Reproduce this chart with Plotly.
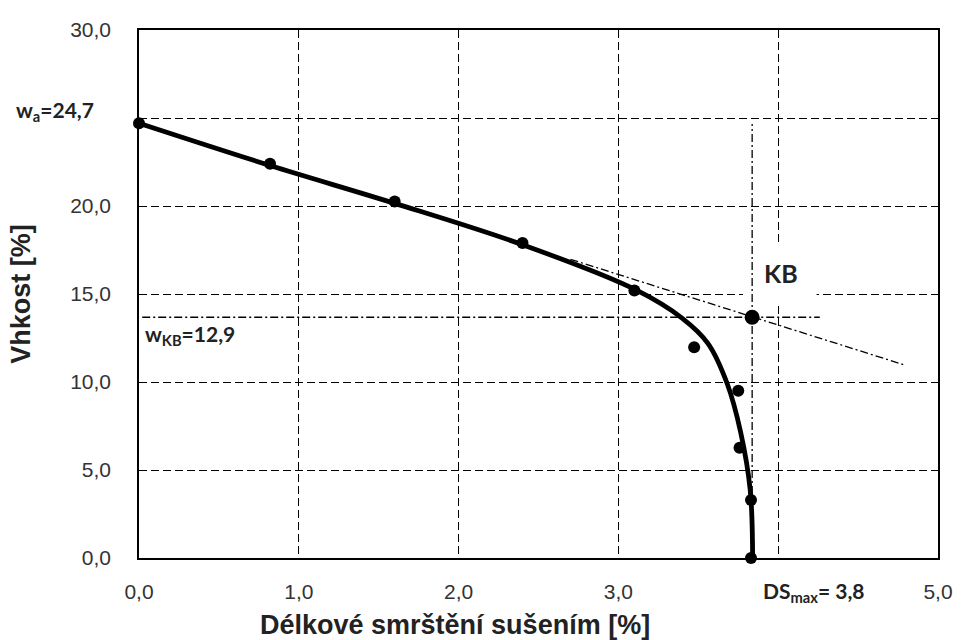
import plotly.graph_objects as go

# measured points
pts_x = [0.0, 0.82, 1.6, 2.4, 3.1, 3.474, 3.75, 3.758, 3.83, 3.83]
pts_y = [24.7, 22.4, 20.25, 17.9, 15.2, 11.97, 9.5, 6.27, 3.30, 0.0]

# fitted curve
curve_x = [0.0, 0.82, 1.6, 2.4, 3.11, 3.40, 3.56, 3.68, 3.765, 3.825, 3.84]
curve_y = [24.7, 22.3, 20.15, 17.8, 15.23, 13.62, 12.2, 9.93, 7.15, 3.85, 0.0]

# critical point (KB)
kb_x = 3.837
kb_y = 13.68

# tangent (extension of linear part)
tan_x = [2.70, 4.79]
tan_y = [16.97, 10.97]

# horizontal and vertical reference lines through KB
hline_x = [0.02, 4.26]
vline_top = 24.66

x_ticks = [0, 1, 2, 3, 4, 5]
x_ticktext = ["0,0", "1,0", "2,0", "3,0", " ", "5,0"]
y_ticks = [0, 5, 10, 15, 20, 25, 30]
y_ticktext = ["0,0", "5,0", "10,0", "15,0", "20,0", " ", "30,0"]

dashdot = "8px,3px,2px,3px"

fig = go.Figure()

fig.add_trace(go.Scatter(x=tan_x, y=tan_y, mode="lines",
                         line=dict(color="black", width=1.3, dash=dashdot),
                         hoverinfo="skip"))
fig.add_trace(go.Scatter(x=hline_x, y=[kb_y, kb_y], mode="lines",
                         line=dict(color="black", width=1.3, dash=dashdot),
                         hoverinfo="skip"))
fig.add_trace(go.Scatter(x=[kb_x, kb_x], y=[0, vline_top], mode="lines",
                         line=dict(color="black", width=1.3, dash=dashdot),
                         hoverinfo="skip"))
fig.add_trace(go.Scatter(x=curve_x, y=curve_y, mode="lines",
                         line=dict(color="black", width=4.8, shape="spline", smoothing=1.0),
                         hoverinfo="skip"))
fig.add_trace(go.Scatter(x=pts_x, y=pts_y, mode="markers",
                         marker=dict(color="black", size=12), cliponaxis=False))
fig.add_trace(go.Scatter(x=[kb_x], y=[kb_y], mode="markers",
                         marker=dict(color="black", size=15), cliponaxis=False))

fig.add_shape(type="rect", x0=3.78, x1=4.24, y0=14.55, y1=17.9,
              xref="x", yref="y", fillcolor="white", line=dict(width=0),
              layer="between")

ann_font = dict(family="Lato", size=21, color="#222")
fig.add_annotation(x=-0.1565, xref="paper", y=25.4, yref="y", xanchor="left", yanchor="middle",
                   text="<b>w<sub>a</sub>=24,7</b>", showarrow=False, font=ann_font)
fig.add_annotation(x=0.025, xref="x", y=12.67, yref="y", xanchor="left", yanchor="middle",
                   text="<b>w<sub>KB</sub>=12,9</b>", showarrow=False, font=ann_font)
fig.add_annotation(x=4.02, xref="x", y=16.19, yref="y", xanchor="center", yanchor="middle",
                   text="<b>KB</b>", showarrow=False, font=dict(family="Lato", size=25, color="#222"))
fig.add_annotation(x=4.22, xref="x", y=-0.0644, yref="paper", xanchor="center", yanchor="middle",
                   text="<b>DS<sub>max</sub>= 3,8</b>", showarrow=False, font=ann_font)
fig.add_annotation(x=1.98, xref="x", y=-0.127, yref="paper", xanchor="center", yanchor="middle",
                   text="<b>Délkové smrštění sušením [%]</b>", showarrow=False,
                   font=dict(family="Liberation Sans", size=27, color="#222"))
fig.add_annotation(x=-0.148, xref="paper", y=15.0, yref="y", xanchor="center", yanchor="middle",
                   text="<b>Vhkost [%]</b>", showarrow=False, textangle=-90,
                   font=dict(family="Liberation Sans", size=27, color="#222"))

fig.update_xaxes(range=[0, 5], tickvals=x_ticks, ticktext=x_ticktext,
                 showgrid=True, gridcolor="black", gridwidth=1.1, griddash="8px,4px",
                 zeroline=False, showline=True, linecolor="black", linewidth=1.5, mirror=True,
                 ticks="", ticklabelstandoff=14,
                 tickfont=dict(family="Liberation Sans", size=21, color="#333"))
fig.update_yaxes(range=[0, 30], tickvals=y_ticks, ticktext=y_ticktext,
                 showgrid=True, gridcolor="black", gridwidth=1.1, griddash="8px,4px",
                 zeroline=False, showline=True, linecolor="black", linewidth=1.5, mirror=True,
                 ticks="", ticklabelstandoff=22,
                 tickfont=dict(family="Liberation Sans", size=21, color="#333"))

fig.update_layout(width=965, height=640, showlegend=False,
                  paper_bgcolor="white", plot_bgcolor="white",
                  margin=dict(l=139, r=21, t=30, b=82))

fig.write_html("out.html")
